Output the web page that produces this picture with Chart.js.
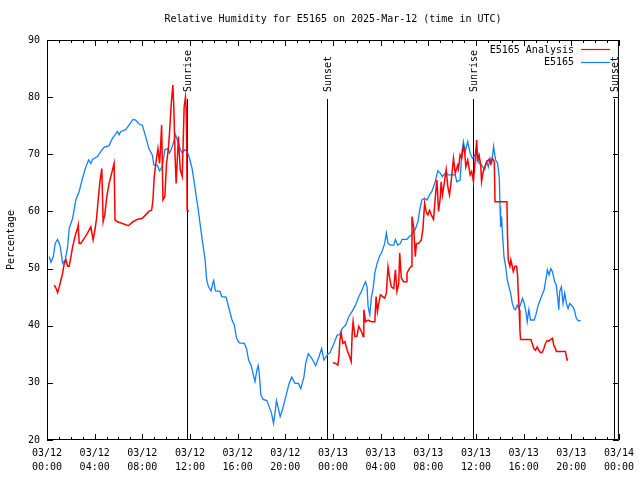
<!DOCTYPE html>
<html>
<head>
<meta charset="utf-8">
<script src="https://cdn.jsdelivr.net/npm/chart.js@4.4.1/dist/chart.umd.min.js"></script>
<style>
  html, body { margin: 0; padding: 0; background: #fff; }
  canvas { display: block; }
</style>
</head>
<body>
<canvas id="rh" width="640" height="480"></canvas>
<script>
// hours since 2025-03-12 00:00 UTC
const blueHours = [0.19,0.33,0.53,0.69,0.89,1.09,1.31,1.53,1.73,1.86,2.15,2.42,2.70,2.98,3.26,3.49,3.68,3.82,4.24,4.52,4.79,5.21,5.49,5.91,6.05,6.19,6.61,6.88,7.22,7.44,7.72,8.00,8.28,8.55,8.84,8.97,9.26,9.45,9.67,9.89,10.09,10.28,10.51,10.79,10.93,11.20,11.35,11.56,11.76,11.96,12.18,12.37,12.57,12.73,12.88,13.07,13.27,13.40,13.55,13.77,13.91,13.99,14.13,14.52,14.66,15.03,15.30,15.53,15.72,15.91,16.14,16.56,16.75,16.92,17.12,17.25,17.45,17.62,17.73,17.81,17.95,18.14,18.45,18.65,18.84,19.01,19.15,19.26,19.42,19.57,19.76,20.04,20.32,20.54,20.82,21.10,21.30,21.57,21.71,21.93,22.22,22.55,22.83,23.05,23.24,23.52,23.75,24.08,24.36,24.56,24.77,25.06,25.33,25.61,25.89,26.17,26.39,26.59,26.73,26.86,26.95,27.09,27.23,27.37,27.51,27.70,27.90,28.12,28.34,28.48,28.62,28.82,29.10,29.24,29.43,29.66,29.79,30.21,30.41,30.63,30.91,31.13,31.27,31.46,31.69,31.88,32.11,32.30,32.58,32.80,33.00,33.19,33.42,33.70,34.26,34.39,34.67,34.81,34.95,35.10,35.31,35.51,35.70,35.93,36.06,36.26,36.48,36.71,36.90,37.04,37.18,37.32,37.48,37.65,37.82,37.96,38.02,38.07,38.15,38.24,38.35,38.49,38.63,38.77,38.91,39.05,39.19,39.32,39.46,39.61,39.77,39.91,40.05,40.19,40.30,40.44,40.58,40.89,41.03,41.22,41.50,41.72,41.86,42.00,42.14,42.28,42.41,42.61,42.74,42.88,42.95,43.03,43.17,43.31,43.45,43.59,43.73,43.87,44.15,44.29,44.42,44.57,44.79];
const blueValues = [52.1,51.1,52.1,54.4,55.1,54.1,50.9,51.5,53.8,57.0,58.8,62.0,63.5,65.8,67.8,69.0,68.4,69.1,69.6,70.5,71.2,71.5,72.8,74.0,73.4,74.0,74.3,75.1,76.1,76.0,75.3,75.1,73.1,71.0,69.9,68.1,68.1,67.1,67.8,70.8,71.0,70.2,71.3,73.4,72.5,70.8,70.2,70.8,70.5,69.3,67.5,64.9,62.0,59.7,57.3,54.4,51.5,48.0,46.8,46.1,47.4,47.9,46.1,46.0,45.1,45.0,42.8,41.0,40.1,37.8,37.0,36.9,36.0,34.0,33.1,32.0,30.2,32.3,33.0,31.7,27.9,27.1,26.9,25.8,24.7,22.9,25.0,26.9,25.5,24.1,25.3,27.6,29.9,31.0,29.9,29.9,29.0,31.1,33.4,35.1,34.3,33.0,34.6,36.0,34.0,34.9,35.3,36.9,38.4,38.4,39.5,40.1,41.6,42.5,43.6,45.1,46.0,47.1,47.7,46.8,43.3,41.9,45.1,46.5,49.2,50.9,52.1,53.0,54.4,56.2,54.4,54.1,54.1,55.1,54.1,54.4,55.1,55.1,55.6,55.9,56.9,58.2,60.2,62.0,62.3,62.0,62.9,63.5,65.2,67.1,66.7,66.1,66.7,66.4,66.4,65.2,65.5,70.2,72.2,70.5,72.2,70.2,69.3,69.9,71.4,68.4,68.1,67.3,68.7,67.8,69.3,68.4,71.4,69.0,68.4,65.8,60.8,57.3,59.1,55.6,52.1,50.4,48.0,46.8,45.7,43.9,43.0,42.8,43.6,43.0,43.9,44.8,43.9,42.5,40.7,42.8,41.0,41.0,41.9,43.6,45.1,46.3,48.0,49.8,48.9,50.0,49.5,47.7,47.1,44.5,42.8,46.0,46.8,43.9,45.7,43.9,43.0,43.9,43.3,42.5,41.3,40.9,40.9];

const redHours = [0.61,0.75,0.89,1.03,1.17,1.31,1.45,1.59,1.73,1.86,2.01,2.15,2.42,2.56,2.62,2.70,2.84,3.12,3.40,3.68,3.87,4.04,4.16,4.32,4.46,4.60,4.71,4.85,5.02,5.21,5.43,5.63,5.71,5.91,6.33,6.83,7.22,7.58,8.00,8.28,8.55,8.78,8.89,9.00,9.17,9.31,9.45,9.53,9.62,9.73,9.89,10.03,10.18,10.28,10.43,10.56,10.64,10.75,10.84,10.92,11.03,11.18,11.35,11.51,11.62,11.68,11.73,11.76,11.90,
  18.00,
  24.00,24.22,24.41,24.50,24.58,24.69,24.83,25.00,25.19,25.39,25.53,25.61,25.69,25.84,26.00,26.17,26.39,26.53,26.59,26.73,26.95,27.23,27.51,27.62,27.73,27.84,27.98,28.18,28.34,28.48,28.62,28.76,28.90,29.10,29.24,29.37,29.52,29.60,29.74,29.93,30.13,30.21,30.41,30.58,30.63,30.77,30.91,31.00,31.19,31.41,31.55,31.69,31.83,31.96,32.11,32.25,32.44,32.58,32.72,32.86,33.00,33.08,33.19,33.36,33.50,33.64,33.78,33.92,34.11,34.26,34.47,34.53,34.67,34.80,34.95,35.05,35.15,35.31,35.51,35.64,35.79,35.93,36.06,36.12,36.26,36.40,36.47,36.61,36.90,37.10,37.23,37.37,37.54,37.60,38.60,38.65,38.71,38.85,38.93,39.05,39.13,39.27,39.41,39.49,39.55,39.63,39.69,39.74,40.61,40.72,40.86,41.00,41.14,41.28,41.41,41.55,41.70,41.83,41.97,42.11,42.28,42.42,42.53,42.67,42.75,43.51,43.59,43.65,43.73];
const redValues = [47.1,46.6,45.8,46.8,48.0,49.2,50.9,51.5,50.4,50.4,52.1,53.8,56.2,57.0,57.6,54.4,54.4,55.3,56.2,57.3,55.0,57.0,58.8,62.6,65.5,67.5,58.2,59.4,62.6,64.9,66.7,68.4,58.5,58.2,57.9,57.5,58.2,58.6,58.8,59.4,60.0,60.2,62.0,66.1,69.0,71.0,68.4,71.3,75.1,62.0,62.6,68.4,70.8,73.7,78.9,82.1,78.3,69.6,64.9,68.4,73.1,67.3,66.1,78.3,80.0,78.3,70.8,60.2,60.0,
  null,
  33.5,33.4,33.1,34.6,37.5,38.7,36.9,37.2,35.7,34.6,33.7,38.7,40.7,38.1,38.1,39.9,39.0,38.1,42.8,40.7,41.0,40.7,40.7,45.1,42.5,43.9,45.4,45.1,44.8,45.7,50.3,48.3,46.8,46.5,49.8,46.0,47.4,52.7,48.3,47.7,47.7,49.2,50.0,50.4,59.1,57.3,52.1,54.4,54.4,55.0,57.0,61.4,59.9,59.4,60.2,59.4,58.6,62.3,65.5,60.0,62.3,65.2,62.9,65.2,67.3,64.3,62.9,65.2,69.3,66.7,68.1,67.5,69.9,69.3,71.4,70.5,67.8,69.0,66.4,67.0,65.2,69.0,72.5,69.0,69.9,68.1,65.2,67.0,68.7,69.1,68.4,69.3,68.7,61.7,61.7,55.6,51.5,50.4,51.5,50.4,49.5,50.4,50.4,48.9,45.7,42.8,39.3,37.6,37.6,36.9,36.0,35.7,36.3,35.7,35.3,35.3,36.0,36.9,37.4,37.3,37.6,37.8,36.6,36.0,35.5,35.5,34.6,34.0,34.1];

const sunEvents = ['Sunrise', 'Sunset', 'Sunrise', 'Sunset'];
const sunHours = [11.77, 23.54, 35.73, 47.55];

const xTickDates = ['03/12','03/12','03/12','03/12','03/12','03/12','03/13','03/13','03/13','03/13','03/13','03/13','03/14'];
const xTickTimes = ['00:00','04:00','08:00','12:00','16:00','20:00','00:00','04:00','08:00','12:00','16:00','20:00','00:00'];

const FONT = '"DejaVu Sans Mono", "Liberation Mono", monospace';

const toPoints = (hs, vs) => hs.map((h, i) => ({ x: h, y: vs[i] }));

// frame, ticks, title, legend, sun markers
const decorations = {
    id: 'decorations',
    beforeDatasetsDraw(chart) {
        const { ctx, chartArea, scales } = chart;
        ctx.save();
        ctx.strokeStyle = '#000';
        ctx.lineWidth = 1;
        ctx.fillStyle = '#000';
        ctx.font = '10px ' + FONT;
        sunHours.forEach((h, i) => {
            const x = Math.round(scales.x.getPixelForValue(h)) + 0.5;
            ctx.beginPath();
            ctx.moveTo(x, 99);
            ctx.lineTo(x, chartArea.bottom);
            ctx.stroke();
            ctx.save();
            ctx.translate(x + 1, 92);
            ctx.rotate(-Math.PI / 2);
            ctx.textAlign = 'left';
            ctx.textBaseline = 'middle';
            ctx.fillText(sunEvents[i], 0, 0);
            ctx.restore();
        });
        ctx.restore();
    },
    afterDraw(chart) {
        const { ctx, chartArea, scales } = chart;
        const { left, right, top, bottom } = chartArea;
        ctx.save();
        ctx.strokeStyle = '#000';
        ctx.lineWidth = 1;
        ctx.beginPath();
        ctx.rect(left + 0.5, top + 0.5, right - left - 1, bottom - top - 1);
        // x ticks: major every 4h, minor every hour
        for (let h = 0; h <= 48; h++) {
            const x = Math.round(scales.x.getPixelForValue(h)) + 0.5;
            const len = h % 4 === 0 ? 6 : 3;
            ctx.moveTo(x, bottom);
            ctx.lineTo(x, bottom - len);
            ctx.moveTo(x, top);
            ctx.lineTo(x, top + len);
        }
        for (let v = 20; v <= 90; v += 10) {
            const y = Math.round(scales.y.getPixelForValue(v)) + 0.5;
            ctx.moveTo(left, y);
            ctx.lineTo(left + 6, y);
            ctx.moveTo(right, y);
            ctx.lineTo(right - 6, y);
        }
        ctx.stroke();

        ctx.fillStyle = '#000';
        ctx.font = '10px ' + FONT;
        ctx.textAlign = 'center';
        ctx.textBaseline = 'middle';
        ctx.fillText('Relative Humidity for E5165 on 2025-Mar-12 (time in UTC)', (left + right) / 2, 19);

        ctx.save();
        ctx.translate(11, (top + bottom) / 2);
        ctx.rotate(-Math.PI / 2);
        ctx.fillText('Percentage', 0, 0);
        ctx.restore();

        // legend
        ctx.textAlign = 'right';
        chart.data.datasets.forEach((ds, i) => {
            const y = 50 + i * 12.5;
            ctx.fillText(ds.label, 574, y);
            ctx.strokeStyle = ds.borderColor;
            ctx.lineWidth = 1.2;
            ctx.beginPath();
            ctx.moveTo(581, Math.round(y) - 0.5);
            ctx.lineTo(610, Math.round(y) - 0.5);
            ctx.stroke();
        });
        ctx.restore();
    }
};

new Chart(document.getElementById('rh'), {
    type: 'line',
    data: {
        datasets: [
            {
                label: 'E5165 Analysis',
                data: toPoints(redHours, redValues),
                borderColor: '#ff0000',
                borderWidth: 1.5,
                pointRadius: 0,
                spanGaps: false,
                tension: 0
            },
            {
                label: 'E5165',
                data: toPoints(blueHours, blueValues),
                borderColor: '#1080ff',
                borderWidth: 1.3,
                pointRadius: 0,
                tension: 0
            }
        ]
    },
    options: {
        responsive: false,
        animation: false,
        devicePixelRatio: 1,
        layout: { padding: { top: 40, right: 19, left: 0, bottom: 0 } },
        plugins: {
            legend: { display: false },
            title: { display: false },
            tooltip: { enabled: false }
        },
        scales: {
            x: {
                type: 'linear',
                min: 0,
                max: 48,
                afterFit: s => { s.height = 40; },
                afterBuildTicks: s => { s.ticks = xTickTimes.map((t, i) => ({ value: i * 4 })); },
                grid: { display: false, drawTicks: false },
                border: { display: false },
                ticks: {
                    autoSkip: false,
                    maxRotation: 0,
                    padding: 6,
                    color: '#000',
                    font: { family: FONT, size: 10, lineHeight: 1.4 },
                    callback: (v, i) => [xTickDates[i], xTickTimes[i]]
                }
            },
            y: {
                min: 20,
                max: 90,
                afterFit: s => { s.width = 47; },
                grid: { display: false, drawTicks: false },
                border: { display: false },
                ticks: {
                    stepSize: 10,
                    padding: 7,
                    color: '#000',
                    font: { family: FONT, size: 10 }
                }
            }
        }
    },
    plugins: [decorations]
});
</script>
</body>
</html>
